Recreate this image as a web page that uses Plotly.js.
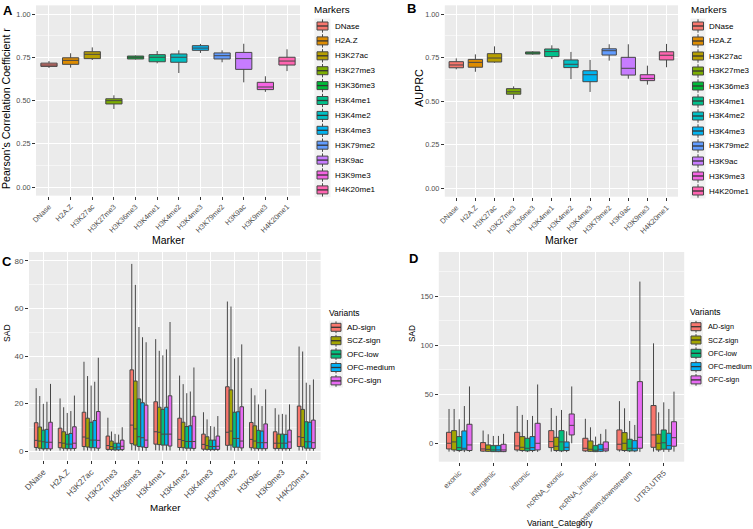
<!DOCTYPE html>
<html><head><meta charset="utf-8">
<script src="https://cdn.plot.ly/plotly-3.0.1.min.js"></script>
<style>body{margin:0;background:#fff}#chart{width:753px;height:529px}</style>
</head><body><div id="chart"></div>
<script>
// ---------- data ----------
const markers = ["DNase","H2A.Z","H3K27ac","H3K27me3","H3K36me3","H3K4me1","H3K4me2","H3K4me3","H3K79me2","H3K9ac","H3K9me3","H4K20me1"];
const markerColors = ["#F8766D","#DE8C00","#B79F00","#7CAE00","#00BA38","#00C08B","#00BFC4","#00B4F0","#619CFF","#C77CFF","#F564E3","#FF64B0"];

// Panel A: Pearson's r
const A_lower  = [0.688,0.690,0.734,0.451,0.737,0.715,0.659,0.775,0.721,0.605,0.550,0.670];
const A_q1     = [0.697,0.709,0.742,0.480,0.740,0.724,0.721,0.790,0.740,0.680,0.563,0.705];
const A_median = [0.705,0.732,0.767,0.499,0.750,0.750,0.750,0.803,0.759,0.742,0.578,0.728];
const A_q3     = [0.716,0.747,0.782,0.510,0.757,0.765,0.769,0.817,0.775,0.778,0.605,0.750];
const A_upper  = [0.728,0.773,0.807,0.530,0.760,0.786,0.790,0.827,0.790,0.828,0.640,0.796];

// Panel B: AUPRC
const B_lower  = [0.682,0.668,0.720,0.511,0.766,0.741,0.626,0.552,0.732,0.628,0.594,0.694];
const B_q1     = [0.691,0.694,0.724,0.539,0.770,0.755,0.692,0.611,0.764,0.649,0.617,0.736];
const B_median = [0.707,0.722,0.747,0.553,0.776,0.784,0.711,0.651,0.789,0.688,0.630,0.763];
const B_q3     = [0.726,0.739,0.772,0.571,0.782,0.799,0.736,0.674,0.800,0.751,0.651,0.783];
const B_upper  = [0.745,0.768,0.814,0.584,0.786,0.820,0.782,0.736,0.826,0.826,0.703,0.828];

// Panels C/D: variants
const variants = ["AD-sign","SCZ-sign","OFC-low","OFC-medium","OFC-sign"];
const variantColors = ["#F8766D","#A3A500","#00BF7D","#00B0F6","#E76BF3"];

// Panel C: SAD by marker (one row per variant)
const C_upper = [
  [26.5,22.2,37.6,14.1,78.7,47.1,31.8,16.4,62.9,26.5,18.1,44.0],
  [23.2,18.5,31.6, 8.3,69.9,42.2,28.2,13.4,60.8,23.5,15.4,41.9],
  [19.9,16.1,27.6, 7.3,52.2,40.3,24.4,10.6,39.0,19.7,15.7,28.8],
  [20.8,16.9,29.2, 7.0,47.9,42.8,25.1,10.3,39.5,19.0,15.4,27.9],
  [28.3,23.4,39.3,10.1,45.8,54.3,35.2,14.8,44.9,26.0,19.7,30.2]];
const C_q3 = [
  [12.0, 9.7,16.4,6.4,34.2,20.8,13.9,7.2,27.1,12.1,8.2,19.0],
  [10.2, 8.2,13.9,4.3,29.5,18.5,12.2,6.1,25.8,10.7,7.2,17.6],
  [ 8.9, 7.1,12.2,3.4,22.0,17.6,10.4,4.7,16.4, 8.8,7.2,12.4],
  [ 9.2, 7.5,12.9,3.4,20.4,18.5,10.7,4.7,16.6, 8.5,7.1,12.2],
  [12.2,10.3,16.7,4.7,19.4,23.3,14.7,6.4,18.7,11.5,8.9,13.1]];
const C_median = [
  [4.6,3.6,6.0,2.4,11.0,8.2,5.0,2.9,8.0,5.0,3.4,6.1],
  [4.3,3.4,5.5,2.0, 9.4,8.0,4.5,2.4,8.5,4.3,3.4,5.8],
  [4.0,3.0,4.7,1.5, 6.1,7.2,4.1,2.0,5.4,3.6,3.4,4.0],
  [3.8,3.0,4.7,1.8, 5.7,7.2,4.1,2.0,5.4,3.6,3.4,4.0],
  [3.8,3.4,4.6,2.1, 4.7,7.2,4.1,2.1,4.3,3.6,3.9,3.6]];
const C_q1 = [
  [1.6,1.5,2.0,0.8,3.2,3.0,1.6,0.9,2.5,1.5,1.2,2.0],
  [1.3,1.3,1.8,0.7,2.6,2.8,1.5,0.8,2.6,1.3,1.2,1.9],
  [1.0,1.1,1.5,0.6,2.0,2.6,1.3,0.7,1.7,1.1,1.1,1.3],
  [1.1,1.1,1.5,0.6,1.8,2.6,1.3,0.7,1.7,1.1,1.1,1.3],
  [1.0,1.2,1.3,0.7,1.6,2.2,1.2,0.8,1.4,1.1,1.2,1.2]];
const C_lower = [
  [0.3,0.3,0.3,0.2,0.4,0.4,0.3,0.2,0.3,0.3,0.3,0.3],
  [0.2,0.2,0.3,0.2,0.3,0.3,0.2,0.2,0.3,0.2,0.2,0.3],
  [0.2,0.2,0.2,0.1,0.2,0.3,0.2,0.1,0.2,0.2,0.2,0.2],
  [0.2,0.2,0.2,0.1,0.2,0.3,0.2,0.1,0.2,0.2,0.2,0.2],
  [0.2,0.2,0.2,0.1,0.2,0.3,0.2,0.1,0.2,0.2,0.2,0.2]];

// Panel D: SAD by variant category
const categories = ["exonic","intergenic","intronic","ncRNA_exonic","ncRNA_intronic","upstream;downstream","UTR3,UTR5"];
const D_upper = [
  [35.0,13.0,38.0,36.0,25.0,43.0,102.0],
  [35.0, 9.2,29.0,28.0,16.3,35.7, 31.6],
  [24.5, 7.5,23.8,34.0, 6.8,22.8, 41.8],
  [38.0, 7.5,27.9,12.2, 9.6,18.7, 35.0],
  [58.0, 9.6,60.0,58.0,14.3,165.0,52.7]];
const D_q3 = [
  [11.2, 0.7,11.2,12.9, 5.1,13.6,38.5],
  [12.9,-1.7, 6.8, 6.1, 2.4,10.9, 9.2],
  [ 6.8,-2.4, 5.1,12.9,-2.4, 4.1,13.6],
  [12.6,-2.4, 6.8, 1.4,-1.0, 2.7,10.2],
  [19.4,-1.0,20.4,29.9, 1.4,62.9,22.0]];
const D_median = [
  [ 0.0,-5.8,-2.7, 1.7,-5.1,-1.0, 8.5],
  [ 1.4,-6.2,-4.1,-3.1,-6.1, 0.0, 0.0],
  [-4.4,-6.8,-5.1, 1.4,-7.1,-5.1, 0.5],
  [-5.1,-6.8,-4.4,-4.1,-6.1,-5.1,-2.4],
  [-1.7,-6.8, 0.0,18.3,-5.8, 6.1, 5.7]];
const D_q1 = [
  [-5.8,-8.0,-6.8,-4.4,-7.8,-6.8,-4.1],
  [-6.8,-8.2,-7.4,-7.4,-8.2,-7.4,-6.8],
  [-7.4,-8.5,-7.8,-7.8,-8.5,-7.8,-6.0],
  [-6.8,-8.5,-7.4,-7.4,-8.2,-7.8,-6.1],
  [-7.4,-8.5,-6.8, 8.5,-7.8,-5.1,-3.0]];
const D_lower = [
  [-8.5,-8.8,-8.5,-8.5,-8.8,-8.5,-8.5],
  [-8.8,-8.8,-8.8,-8.8,-8.8,-8.8,-8.8],
  [-9.0,-9.0,-9.0,-9.0,-9.0,-9.0,-8.8],
  [-9.0,-9.0,-9.0,-9.0,-9.0,-9.0,-8.8],
  [-8.8,-9.0,-8.8, 0.0,-9.0,-8.8,-8.5]];

// ---------- helpers ----------
const W = 753, H = 529;
const FONT = "Liberation Sans, Arial, sans-serif";
const px = x => x / W;
const py = y => 1 - y / H;
const LINE = "#474747";

const traces = [];
markers.forEach((m, i) => {
  traces.push({type:"box", xaxis:"x", yaxis:"y", x:[m], q1:[A_q1[i]], median:[A_median[i]], q3:[A_q3[i]],
    lowerfence:[A_lower[i]], upperfence:[A_upper[i]], fillcolor:markerColors[i], line:{color:LINE,width:1},
    whiskerwidth:0, offsetgroup:"A", showlegend:false, hoverinfo:"skip", name:m});
  traces.push({type:"box", xaxis:"x2", yaxis:"y2", x:[m], q1:[B_q1[i]], median:[B_median[i]], q3:[B_q3[i]],
    lowerfence:[B_lower[i]], upperfence:[B_upper[i]], fillcolor:markerColors[i], line:{color:LINE,width:1},
    whiskerwidth:0, offsetgroup:"B", showlegend:false, hoverinfo:"skip", name:m});
});
variants.forEach((v, k) => {
  traces.push({type:"box", xaxis:"x3", yaxis:"y3", x:markers, q1:C_q1[k], median:C_median[k], q3:C_q3[k],
    lowerfence:C_lower[k], upperfence:C_upper[k], fillcolor:variantColors[k], line:{color:LINE,width:1},
    whiskerwidth:0, offsetgroup:v, showlegend:false, hoverinfo:"skip", name:v});
  traces.push({type:"box", xaxis:"x4", yaxis:"y4", x:categories, q1:D_q1[k], median:D_median[k], q3:D_q3[k],
    lowerfence:D_lower[k], upperfence:D_upper[k], fillcolor:variantColors[k], line:{color:LINE,width:1},
    whiskerwidth:0, offsetgroup:v, showlegend:false, hoverinfo:"skip", name:v});
});

function axis(extra, fs) {
  return Object.assign({showline:false, ticks:"outside", ticklen:3, tickcolor:"#333", tickwidth:1,
    gridcolor:"#ffffff", gridwidth:1, zeroline:false, fixedrange:true,
    tickfont:{family:FONT, size:fs, color:"#4d4d4d"}}, extra);
}
function catAxis(dom, anchor, cats, fs) {
  return axis({domain:[px(dom[0]), px(dom[1])], anchor:anchor, type:"category", categoryorder:"array",
    categoryarray:cats, range:[-0.6, cats.length - 0.4], tickangle:-45}, fs);
}
function valAxis(dom, anchor, range, dtick, mdtick, fmt, fs) {
  return axis({domain:[py(dom[1]), py(dom[0])], anchor:anchor, range:range, tick0:0, dtick:dtick, tickformat:fmt,
    minor:{tick0:0, dtick:mdtick, showgrid:true, gridcolor:"#ffffff", gridwidth:0.5}}, fs);
}

const shapes = [], annotations = [];
function text(t, x, y, size, opts) {
  annotations.push(Object.assign({xref:"paper", yref:"paper", x:px(x), y:py(y), text:t, showarrow:false,
    xanchor:"center", yanchor:"middle", font:{family:FONT, size:size, color:"#000"}}, opts || {}));
}
function legend(title, labels, colors, o) {
  text(title, o.titleX, o.titleY, o.titleSize, {xanchor:"left"});
  const n = labels.length;
  shapes.push({type:"rect", xref:"paper", yref:"paper", x0:px(o.bg0), x1:px(o.bg1),
    y0:py(o.y0 - o.dy/2), y1:py(o.y0 + (n-1)*o.dy + o.dy/2), fillcolor:"#F2F2F2", line:{width:0}});
  labels.forEach((lab, i) => {
    const yc = o.y0 + i*o.dy, cx = (o.k0 + o.k1)/2;
    shapes.push({type:"line", xref:"paper", yref:"paper", x0:px(cx), x1:px(cx),
      y0:py(yc - o.dy/2 + 0.8), y1:py(yc + o.dy/2 - 0.8), line:{color:LINE, width:1}});
    shapes.push({type:"rect", xref:"paper", yref:"paper", x0:px(o.k0), x1:px(o.k1),
      y0:py(yc - o.bh/2), y1:py(yc + o.bh/2), fillcolor:colors[i], line:{color:LINE, width:1}});
    shapes.push({type:"line", xref:"paper", yref:"paper", x0:px(o.k0), x1:px(o.k1),
      y0:py(yc), y1:py(yc), line:{color:"#333", width:1.3}});
    text(lab, o.lx, yc, o.size, {xanchor:"left"});
  });
}

// legends
legend("Markers", markers, markerColors, {titleX:312, titleY:9.5, titleSize:9.9, bg0:314.5, bg1:330.5,
  k0:317, k1:328, y0:26, dy:14.9, bh:8, lx:333, size:8});
legend("Markers", markers, markerColors, {titleX:689, titleY:9.5, titleSize:9.9, bg0:690.5, bg1:705.5,
  k0:692.5, k1:703.5, y0:26, dy:15, bh:8, lx:707, size:8});
legend("Variants", variants, variantColors, {titleX:327, titleY:313, titleSize:8.5, bg0:329, bg1:343,
  k0:331, k1:341, y0:327.3, dy:13.4, bh:8, lx:345, size:8});
legend("Variants", variants, variantColors, {titleX:688, titleY:312.3, titleSize:8.5, bg0:689, bg1:703,
  k0:691, k1:701, y0:326.7, dy:13.3, bh:8, lx:706, size:7.3});

// axis titles
text("Marker", 168, 240, 10.5);
text("Marker", 561, 240, 10.5);
text("Marker", 165, 507, 9.8);
text("Variant_Category", 560, 523, 8.5);
text("Pearson's Correlation Coefficient r", 6, 109, 10.6, {textangle:-90});
text("AUPRC", 419, 88, 10.8, {textangle:-90});
text("SAD", 7, 333, 8.6, {textangle:-90});
text("SAD", 412, 333, 8.2, {textangle:-90});
// panel letters
text("<b>A</b>", 8, 11, 13);
text("<b>B</b>", 412, 8, 13);
text("<b>C</b>", 7, 261, 13);
text("<b>D</b>", 414, 258, 13);

const layout = {
  width:W, height:H, margin:{l:0,r:0,t:0,b:0}, paper_bgcolor:"#fff", plot_bgcolor:"#EBEBEB",
  showlegend:false, boxmode:"group", boxgap:0.25, boxgroupgap:0,
  font:{family:FONT},
  xaxis:  catAxis([36, 300], "y", markers, 7.3),
  yaxis:  valAxis([5.35, 195.65], "x", [-0.05, 1.05], 0.25, 0.125, ".2f", 7.3),
  xaxis2: catAxis([444.8, 678], "y2", markers, 7.3),
  yaxis2: valAxis([5.3, 196.7], "x2", [-0.05, 1.05], 0.25, 0.125, ".2f", 7.3),
  xaxis3: catAxis([29, 320.6], "y3", markers, 8.3),
  yaxis3: valAxis([252, 460], "x3", [-3.66, 83.7], 20, 10, "d", 8),
  xaxis4: catAxis([438.8, 684.2], "y4", categories, 7.5),
  yaxis4: valAxis([252, 461.7], "x4", [-18.8, 195.2], 50, 25, "d", 7.6),
  shapes:shapes, annotations:annotations
};
Plotly.newPlot("chart", traces, layout, {staticPlot:true, displayModeBar:false});
</script></body></html>
